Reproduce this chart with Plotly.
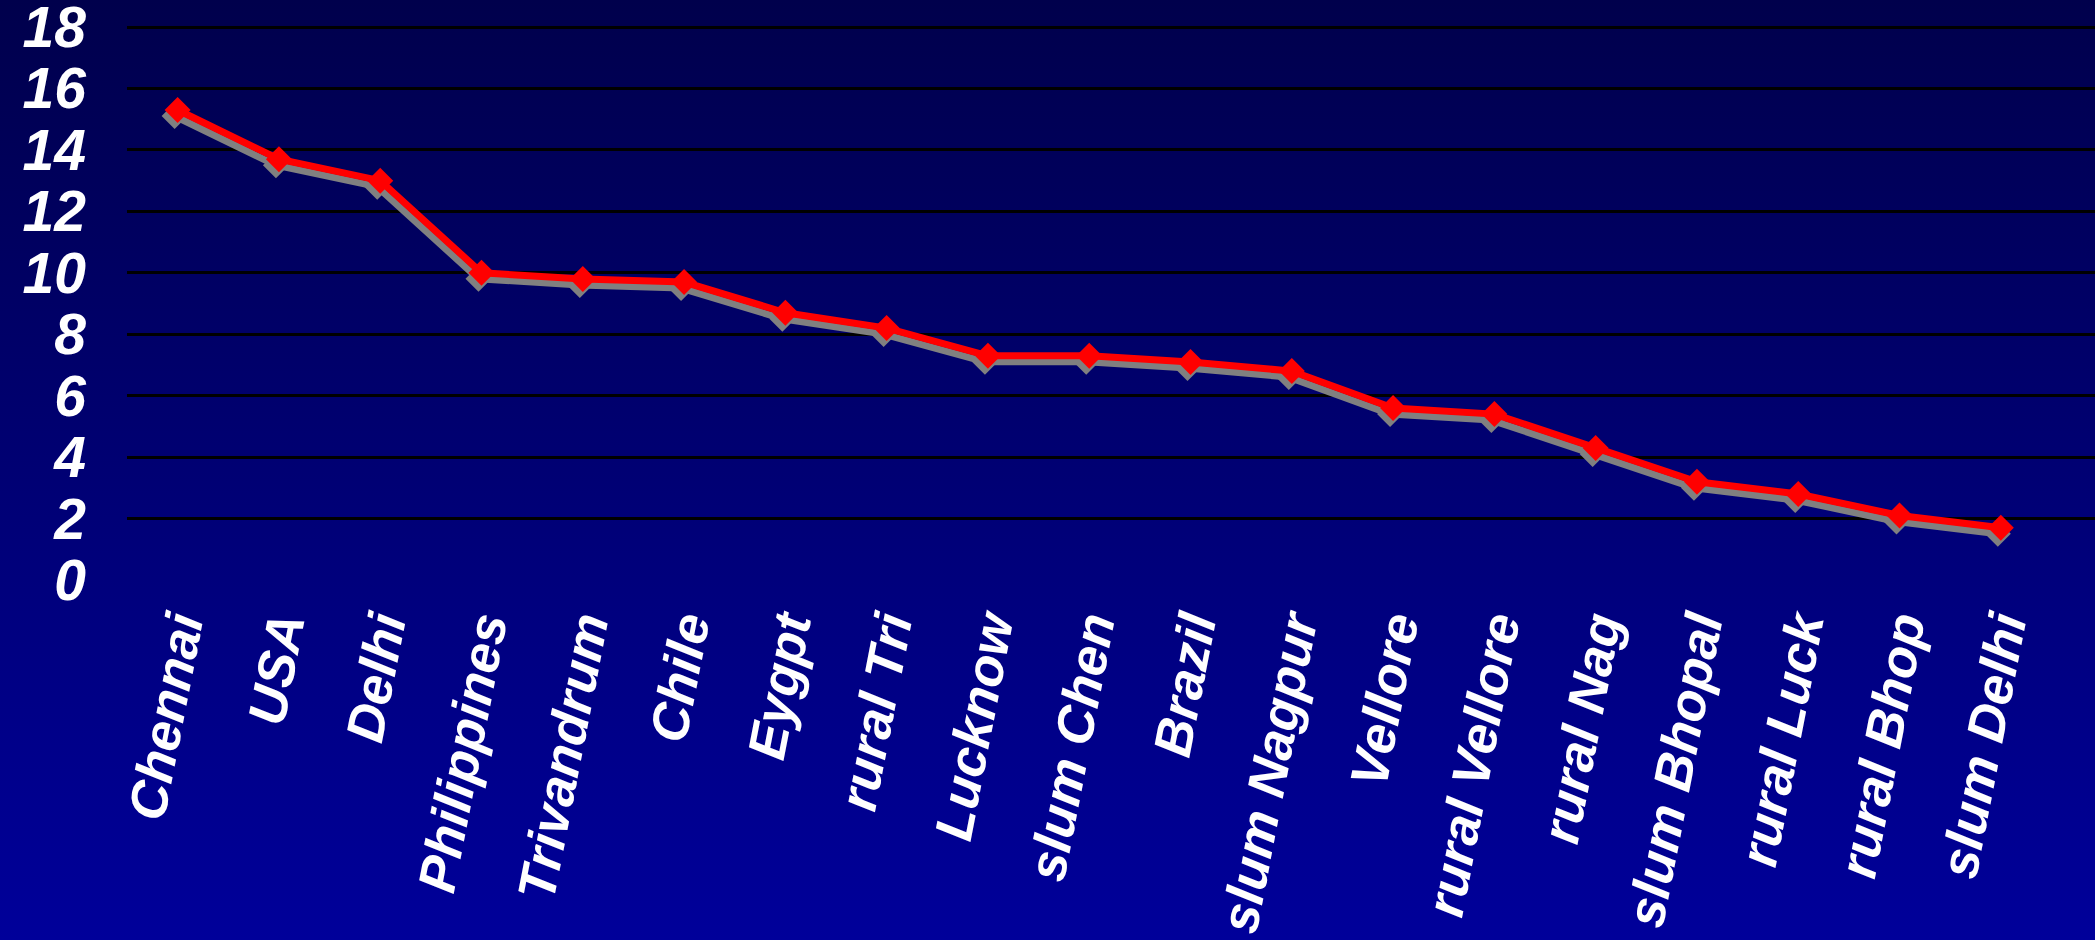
"""Declining line chart with drop shadow on a navy gradient."""
import base64
import plotly.graph_objects as go

PLACES = ["Chennai", "USA", "Delhi", "Philippines", "Trivandrum", "Chile", "Eygpt",
          "rural Tri", "Lucknow", "slum Chen", "Brazil", "slum Nagpur", "Vellore",
          "rural Vellore", "rural Nag", "slum Bhopal", "rural Luck", "rural Bhop", "slum Delhi"]
VALUES = [15.3, 13.7, 13.0, 10.0, 9.8, 9.7, 8.7, 8.2, 7.3, 7.3, 7.1, 6.8, 5.6, 5.4,
          4.3, 3.2, 2.8, 2.1, 1.7]
Y_TICKS = [0, 2, 4, 6, 8, 10, 12, 14, 16, 18]

W, H = 2095, 940
M = dict(l=127, r=0, t=24, b=360)
PW, PH = W - M["l"] - M["r"], H - M["t"] - M["b"]
XR = [-0.5, 18.93]
YR = [0, 18.1]          # a hair above 18 so the top gridline is kept
# shadow offset in pixels (left, down)
DX, DY = 3, 6
xs = DX * (XR[1] - XR[0]) / PW
ys = DY * (YR[1] - YR[0]) / PH

FONT = dict(family="Liberation Sans, Arial, sans-serif", color="white",
            weight="bold", style="italic")

svg = (f'<svg xmlns="http://www.w3.org/2000/svg" width="{W}" height="{H}" preserveAspectRatio="none">'
       '<defs><linearGradient id="g" x1="0" y1="0" x2="0" y2="1">'
       '<stop offset="0" stop-color="#00004c"/><stop offset="1" stop-color="#00009a"/>'
       '</linearGradient></defs><rect width="100%" height="100%" fill="url(#g)"/></svg>')
bg = "data:image/svg+xml;base64," + base64.b64encode(svg.encode()).decode()

fig = go.Figure()
# helper so the category axis has data
fig.add_trace(go.Scatter(x=PLACES, y=VALUES, mode="lines", line=dict(width=0),
                         opacity=0, hoverinfo="skip", showlegend=False))
fig.add_trace(go.Scatter(
    x=PLACES, y=VALUES, xaxis="x2", yaxis="y2", mode="lines+markers",
    line=dict(color="#808080", width=7),
    marker=dict(symbol="diamond", size=20, color="#808080"),
    hoverinfo="skip", showlegend=False))
fig.add_trace(go.Scatter(
    x=PLACES, y=VALUES, xaxis="x3", yaxis="y3", mode="lines+markers",
    line=dict(color="#ff0000", width=7),
    marker=dict(symbol="diamond", size=20, color="#ff0000"),
    hovertemplate="<b>%{x}</b><br>%{y}<extra></extra>", showlegend=False))

hidden = dict(type="category", categoryarray=PLACES, showgrid=False, zeroline=False,
              showticklabels=False, showline=False, fixedrange=True)
fig.update_layout(
    width=W, height=H, autosize=False, margin=M,
    paper_bgcolor="#00009a", plot_bgcolor="rgba(0,0,0,0)",
    images=[dict(source=bg, xref="paper", yref="paper",
                 x=-M["l"] / PW, y=1 + M["t"] / PH, sizex=W / PW, sizey=H / PH,
                 sizing="stretch", xanchor="left", yanchor="top", layer="below")],
    xaxis=dict(type="category", categoryarray=PLACES, range=XR, showgrid=False,
               zeroline=False, showline=False, tickangle=-79, ticks="", automargin=False,
               ticklabelstandoff=5, ticklabeloverflow="allow",
               tickfont=dict(size=53, **FONT)),
    yaxis=dict(range=YR, tickvals=Y_TICKS, showgrid=True, gridcolor="black", gridwidth=3,
               zeroline=True, zerolinecolor="rgba(0,0,0,0)", showline=False, ticks="",
               automargin=False, ticklabeloverflow="allow",
               ticklabelstandoff=40, tickfont=dict(size=57, **FONT)),
    xaxis2=dict(overlaying="x", range=[XR[0] + xs, XR[1] + xs], **hidden),
    yaxis2=dict(overlaying="y", range=[YR[0] + ys, YR[1] + ys], showgrid=False,
                zeroline=False, showticklabels=False, fixedrange=True),
    xaxis3=dict(overlaying="x", range=XR, **hidden),
    yaxis3=dict(overlaying="y", range=YR, showgrid=False, zeroline=False,
                showticklabels=False, fixedrange=True),
)

fig.write_html("out.html", config={"displayModeBar": False},
               post_script="document.body.style.margin='0px';")
